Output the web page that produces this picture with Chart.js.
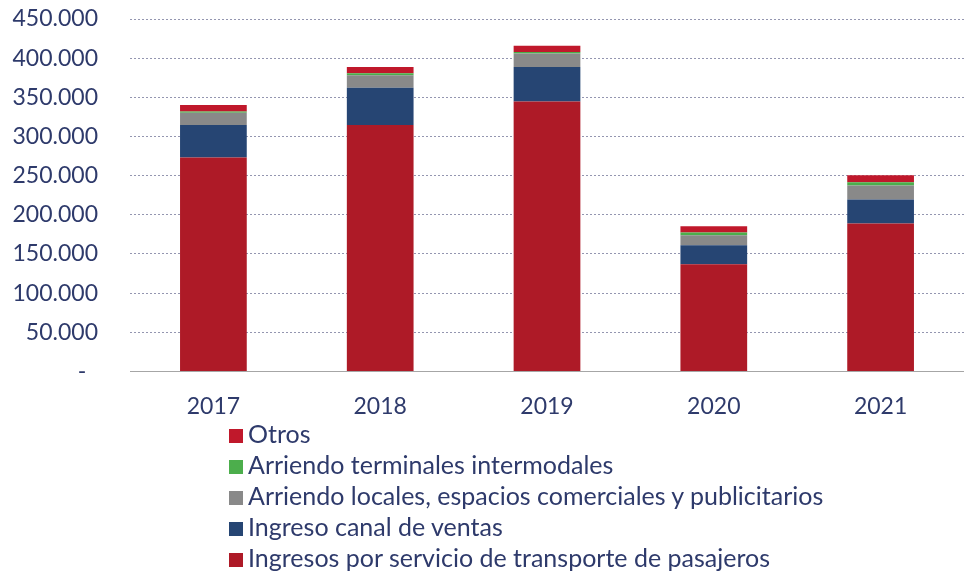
<!DOCTYPE html>
<html>
<head>
<meta charset="utf-8">
<script src="https://cdn.jsdelivr.net/npm/chart.js@4.4.1/dist/chart.umd.min.js"></script>
<style>
  body { margin: 0; background: #fff; }
  #wrap { position: relative; width: 964px; height: 573px; }
  #chartBox { position: absolute; left: 0; top: 0; width: 964px; height: 433px; }
  #legend { position: absolute; left: 229px; top: 418px; font-family: Lato, sans-serif; font-size: 25px; color: #2E3A6B; }
  #legend div { height: 31px; line-height: 31px; white-space: nowrap; }
  #legend span { display: inline-block; width: 14px; height: 14px; margin-right: 5px; vertical-align: 0px; }
</style>
</head>
<body>
<div id="wrap">
  <div id="chartBox"><canvas id="revChart"></canvas></div>
  <div id="legend"></div>
</div>
<script>
// Years on the x axis
const years = ['2017', '2018', '2019', '2020', '2021'];

// Series values
const pasajeros = [273200, 314500, 344800, 136800, 188800];
const canalVentas = [41300, 47700, 43900, 24300, 30700];
const arriendoLocales = [15700, 15850, 17260, 12800, 17900];
const arriendoTerminales = [1800, 2560, 1900, 3450, 4200];
const otros = [8050, 8050, 8050, 8050, 8950];

// y axis ticks
const yTicks = [0, 50000, 100000, 150000, 200000, 250000, 300000, 350000, 400000, 450000];

const textColor = '#2E3A6B';

function fmt(v) {
    if (v === 0) return '-  ';
    return String(v).replace(/\B(?=(\d{3})+(?!\d))/g, '.');
}

const ctx = document.getElementById('revChart').getContext('2d');
const revChart = new Chart(ctx, {
    type: 'bar',
    data: {
        labels: years,
        datasets: [
            { label: 'Ingresos por servicio de transporte de pasajeros', data: pasajeros, backgroundColor: '#AE1A27' },
            { label: 'Ingreso canal de ventas', data: canalVentas, backgroundColor: '#264573' },
            { label: 'Arriendo locales, espacios comerciales y publicitarios', data: arriendoLocales, backgroundColor: '#898989' },
            { label: 'Arriendo terminales intermodales', data: arriendoTerminales, backgroundColor: '#4CAE4C' },
            { label: 'Otros', data: otros, backgroundColor: '#C0182B' }
        ]
    },
    options: {
        responsive: true,
        maintainAspectRatio: false,
        animation: false,
        layout: { padding: { top: 19, right: 0, left: 0, bottom: 0 } },
        datasets: { bar: { categoryPercentage: 1, barPercentage: 0.4, borderWidth: 0 } },
        plugins: {
            legend: { display: false },
            tooltip: { enabled: false }
        },
        scales: {
            x: {
                stacked: true,
                grid: { display: false },
                border: { display: true, color: '#A6A6A6', width: 1 },
                ticks: { color: textColor, font: { family: 'Lato', size: 23 }, padding: 13 }
            },
            y: {
                stacked: true,
                min: 0,
                max: 450000,
                afterBuildTicks: function (axis) {
                    axis.ticks = yTicks.map(v => ({ value: v }));
                },
                afterFit: function (axis) {
                    // fixed axis width, no extra vertical padding from the label gap
                    axis.width = 130;
                    axis.paddingTop = 0;
                    axis.paddingBottom = 0;
                },
                grid: { color: '#9496B0', lineWidth: 1, drawTicks: false },
                border: { display: false, dash: [2, 2] },
                ticks: {
                    color: textColor,
                    font: { family: 'Lato', size: 23 },
                    padding: 32,
                    callback: function (value) { return fmt(value); }
                }
            }
        }
    }
});

// Legend, topmost series first
const legendBox = document.getElementById('legend');
revChart.data.datasets.slice().reverse().forEach(function (ds) {
    const row = document.createElement('div');
    const sw = document.createElement('span');
    sw.style.background = ds.backgroundColor;
    row.appendChild(sw);
    row.appendChild(document.createTextNode(ds.label));
    legendBox.appendChild(row);
});
</script>
</body>
</html>
